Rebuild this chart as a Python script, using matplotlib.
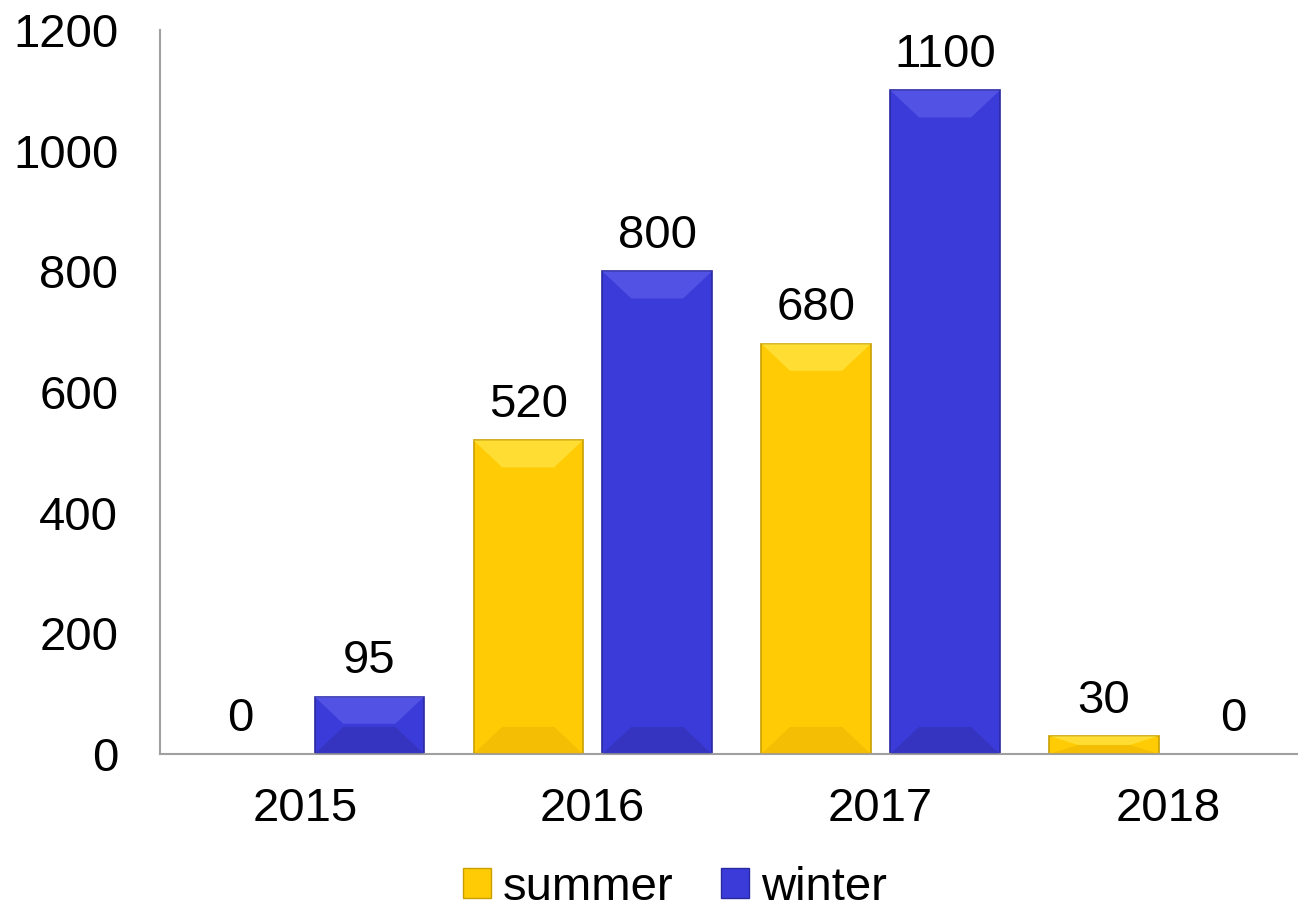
import matplotlib.pyplot as plt
from matplotlib.patches import Polygon, Patch
import numpy as np

plt.rcParams['font.family'] = ['Liberation Sans', 'DejaVu Sans']

years = ["2015", "2016", "2017", "2018"]
summer = [0, 520, 680, 30]
winter = [95, 800, 1100, 0]

summer_col = "#FFCB05"
winter_col = "#3B3BD9"

fig = plt.figure(figsize=(12.98, 9.11), dpi=100)
ax = fig.add_axes([160 / 1298, 1 - 754 / 911, 1138 / 1298, 724 / 911])

x = np.arange(len(years))
w = 0.38
off = 0.224

def bevel(bars, light, dark):
    # simple bevel: lighter top wedge, darker bottom wedge
    for b in bars:
        h = b.get_height()
        if h <= 0:
            continue
        x0 = b.get_x()
        x1 = x0 + b.get_width()
        bw = 0.1
        bh = min(45, h / 2)
        top = Polygon([(x0, h), (x1, h), (x1 - bw, h - bh), (x0 + bw, h - bh)],
                      closed=True, facecolor=light, edgecolor="none", alpha=0.5, zorder=3)
        bot = Polygon([(x0, 0), (x1, 0), (x1 - bw, bh), (x0 + bw, bh)],
                      closed=True, facecolor=dark, edgecolor="none", alpha=0.3, zorder=3)
        ax.add_patch(top)
        ax.add_patch(bot)

b1 = ax.bar(x - off, summer, w, color=summer_col, edgecolor="#C9A000", linewidth=1.2, zorder=2)
b2 = ax.bar(x + off, winter, w, color=winter_col, edgecolor="#2A2AA0", linewidth=1.2, zorder=2)
bevel(b1, "#FFF060", "#D9A000")
bevel(b2, "#6A6AF0", "#25258A")

for xi, v in zip(x - off, summer):
    ax.text(xi, v + 22, str(v), ha="center", va="bottom", fontsize=34)
for xi, v in zip(x + off, winter):
    ax.text(xi, v + 22, str(v), ha="center", va="bottom", fontsize=34)

ax.set_xlim(-0.503, 3.45)
ax.set_ylim(0, 1200)
ax.set_yticks(range(0, 1201, 200))
ax.set_xticks(x)
ax.set_xticklabels(years)
ax.tick_params(axis="both", length=0, labelsize=34)
ax.tick_params(axis="x", pad=24)
ax.tick_params(axis="y", pad=30)
for s in ["top", "right"]:
    ax.spines[s].set_visible(False)
ax.spines["left"].set_color("#A0A0A0")
ax.spines["bottom"].set_color("#A0A0A0")
ax.spines["left"].set_linewidth(1.5)
ax.spines["bottom"].set_linewidth(1.5)

handles = [Patch(facecolor=summer_col, edgecolor="#C9A000", label="summer"),
           Patch(facecolor=winter_col, edgecolor="#2A2AA0", label="winter")]
fig.legend(handles=handles, loc="center", bbox_to_anchor=(675 / 1298, 1 - 888 / 911),
           ncol=2, frameon=False, fontsize=34, handlelength=0.6, handleheight=0.6,
           handletextpad=0.25, columnspacing=1.0)

fig.savefig("out.png", dpi=100)
